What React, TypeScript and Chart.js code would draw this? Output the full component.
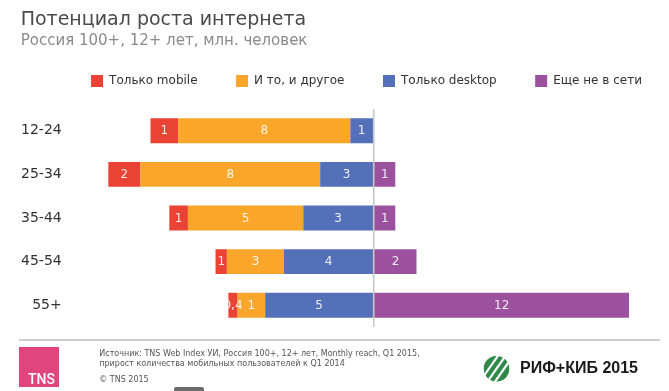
import React, { useEffect, useRef } from "react";
import { Chart, registerables } from "chart.js";

Chart.register(...registerables);

const categories = ["12-24", "25-34", "35-44", "45-54", "55+"];
const seriesNames = ["Только mobile", "И то, и другое", "Только desktop", "Еще не в сети"];
const seriesColors = ["#EA4335", "#F9A62A", "#5470B8", "#9C519E"];

// млн. человек (mobile / both / desktop drawn to the left of zero)
const mobileOnly = [1.29, 1.5, 0.87, 0.53, 0.43];
const mobileAndDesktop = [8.05, 8.4, 5.39, 2.67, 1.29];
const desktopOnly = [1.09, 2.5, 3.29, 4.19, 5.07];
const notOnline = [null, 1.01, 1.01, 2.0, 11.93];

const titleText = "Потенциал роста интернета";
const subtitleText = "Россия 100+, 12+ лет, млн. человек";
const sourceLines = [
  "Источник: TNS Web Index УИ, Россия 100+, 12+ лет, Monthly reach, Q1 2015,",
  "прирост количества мобильных пользователей к Q1 2014",
];
const copyrightText = "© TNS 2015";
const eventText = "РИФ+КИБ 2015";

const negate = (arr: (number | null)[]) => arr.map((v) => (v == null ? null : -v));

const formatLabel = (v: number) => {
  const a = Math.abs(v);
  if (a < 0.5) return a.toFixed(1).replace(".", ",");
  return String(Math.round(a));
};

const dataLabelPlugin = {
  id: "segmentLabels",
  afterDatasetsDraw(chart: any) {
    const ctx = chart.ctx;
    ctx.save();
    ctx.font = "12px 'DejaVu Sans'";
    ctx.fillStyle = "rgba(255,255,255,0.88)";
    ctx.textAlign = "center";
    ctx.textBaseline = "middle";
    chart.data.datasets.forEach((ds: any, i: number) => {
      const meta = chart.getDatasetMeta(i);
      meta.data.forEach((bar: any, j: number) => {
        const raw = ds.data[j];
        if (raw == null) return;
        const p = bar.getProps(["x", "base", "y"], true);
        ctx.fillText(formatLabel(raw), (p.x + p.base) / 2, p.y + 0.5);
      });
    });
    ctx.restore();
  },
};

export default function App() {
  const canvasRef = useRef<HTMLCanvasElement | null>(null);

  useEffect(() => {
    if (!canvasRef.current) return;
    const chart = new Chart(canvasRef.current, {
      type: "bar",
      data: {
        labels: categories,
        datasets: [
          { label: seriesNames[0], data: negate(mobileOnly), backgroundColor: seriesColors[0], order: 3 },
          { label: seriesNames[1], data: negate(mobileAndDesktop), backgroundColor: seriesColors[1], order: 2 },
          { label: seriesNames[2], data: negate(desktopOnly), backgroundColor: seriesColors[2], order: 1 },
          { label: seriesNames[3], data: notOnline, backgroundColor: seriesColors[3], order: 4 },
        ],
      },
      options: {
        indexAxis: "y",
        responsive: false,
        animation: false,
        events: [],
        barPercentage: 0.572,
        categoryPercentage: 1,
        layout: { padding: { left: 15, right: -49, top: 36.5, bottom: 64 } },
        plugins: {
          title: { display: false },
          tooltip: { enabled: false },
          legend: {
            position: "top",
            align: "center",
            labels: {
              boxWidth: 12,
              boxHeight: 12,
              padding: 38.5,
              color: "#333",
              font: { family: "'DejaVu Sans'", size: 12 },
              sort: (a: any, b: any) => a.datasetIndex - b.datasetIndex,
            },
          },
        },
        scales: {
          x: {
            type: "linear",
            position: "top",
            stacked: true,
            min: -13,
            max: 13.8,
            ticks: { display: false, stepSize: 1 },
            border: { display: false },
            grid: {
              drawTicks: false,
              lineWidth: 1.5,
              color: (c: any) => (c.tick && c.tick.value === 0 ? "#c6c6c6" : "rgba(0,0,0,0)"),
            },
            afterFit: (s: any) => {
              s.height = 12;
            },
          },
          y: {
            type: "category",
            stacked: true,
            border: { display: false },
            grid: { display: false, drawTicks: false },
            ticks: {
              padding: 33.8,
              color: "#333",
              font: { family: "'DejaVu Sans'", size: 14 },
            },
            afterFit: (s: any) => {
              s.width = 80.5;
            },
          },
        },
      },
      plugins: [dataLabelPlugin],
    } as any);
    return () => chart.destroy();
  }, []);

  return (
    <div style={{ position: "absolute", left: 0, top: 0, width: 669, height: 391, background: "#fff", overflow: "hidden" }}>
      <canvas ref={canvasRef} width={669} height={391} style={{ position: "absolute", left: 0, top: 0 }} />
      <svg
        width={669}
        height={391}
        style={{ position: "absolute", left: 0, top: 0, pointerEvents: "none" }}
      >
        <text x={20.7} y={25} fontFamily="DejaVu Sans" fontSize={19} fill="#4a4a4a">
          {titleText}
        </text>
        <text x={20.7} y={45} fontFamily="DejaVu Sans" fontSize={15} fill="#8a8a8a">
          {subtitleText}
        </text>

        <line x1={19} y1={340} x2={660} y2={340} stroke="#bdbdbd" strokeWidth={1.5} />

        <rect x={19} y={347} width={40} height={40} fill="#E2457E" />
        <text x={28} y={384.3} fontFamily="Roboto" fontWeight={500} fontSize={14} fill="#ffffff">
          TNS
        </text>

        <text x={99.3} y={356} fontFamily="DejaVu Sans" fontSize={8} fill="#555">
          {sourceLines[0]}
        </text>
        <text x={99.3} y={365.5} fontFamily="DejaVu Sans" fontSize={8} fill="#555">
          {sourceLines[1]}
        </text>
        <text x={99.3} y={381.5} fontFamily="DejaVu Sans" fontSize={8} fill="#555">
          {copyrightText}
        </text>

        <rect x={174} y={387} width={30} height={6} rx={2} fill="#6d6d6d" />

        <defs>
          <clipPath id="rifClip">
            <circle cx={496.5} cy={368.7} r={13} />
          </clipPath>
        </defs>
        <g clipPath="url(#rifClip)">
          <circle cx={496.5} cy={368.7} r={13} fill="#2f8a49" />
          <g transform="rotate(-55 496.5 368.7)" stroke="#ffffff" strokeWidth={2.2}>
            <line x1={470} y1={362.5} x2={523} y2={362.5} />
            <line x1={470} y1={368.7} x2={523} y2={368.7} />
            <line x1={470} y1={374.9} x2={523} y2={374.9} />
          </g>
        </g>
        <text x={520} y={373} fontFamily="Liberation Sans" fontWeight="bold" fontSize={16} fill="#1a1a1a">
          {eventText}
        </text>
      </svg>
    </div>
  );
}
